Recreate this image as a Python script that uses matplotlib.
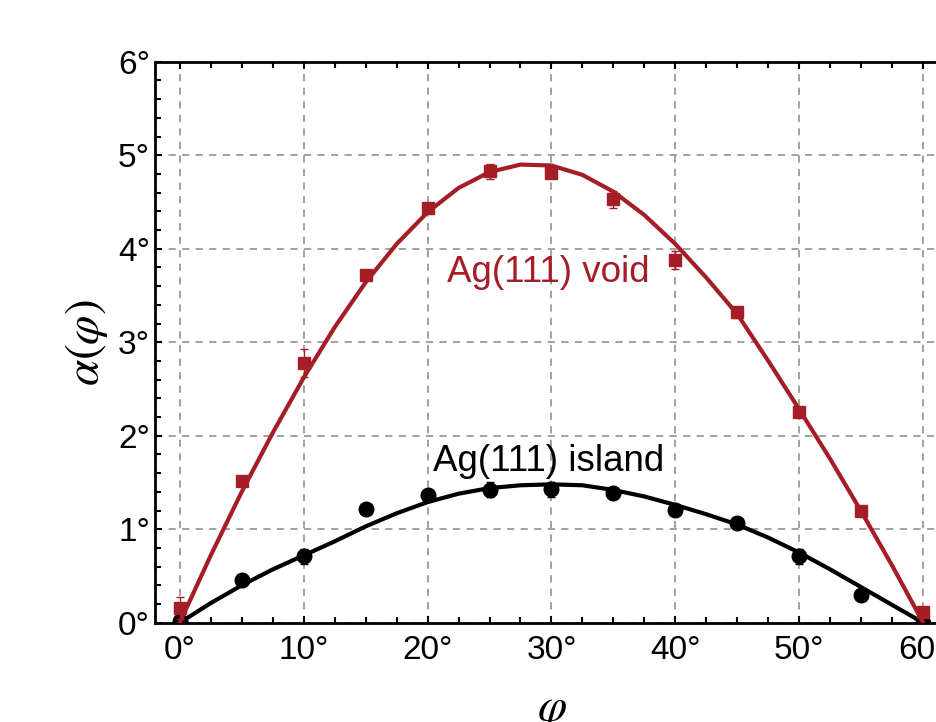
import numpy as np
import matplotlib.pyplot as plt
from matplotlib.ticker import MultipleLocator, FuncFormatter

plt.rcParams['font.family'] = ['Liberation Sans', 'DejaVu Sans']
plt.rcParams['mathtext.fontset'] = 'stix'

# measured points
phi = [0, 5, 10, 15, 20, 25, 30, 35, 40, 45, 50, 55, 60]
void = [0.16, 1.52, 2.78, 3.72, 4.44, 4.83, 4.81, 4.53, 3.88, 3.32, 2.25, 1.20, 0.12]
void_err = [0.12, 0.05, 0.15, 0.05, 0.05, 0.08, 0.03, 0.09, 0.10, 0.06, 0.04, 0.05, 0.05]
island = [0.02, 0.46, 0.71, 1.22, 1.37, 1.42, 1.43, 1.39, 1.21, 1.07, 0.71, 0.30, 0.0]
island_err = [0.03, 0.04, 0.08, 0.04, 0.04, 0.08, 0.08, 0.04, 0.04, 0.04, 0.08, 0.04, 0.03]

# fitted curves
fit_phi = [0, 2.5, 5, 7.5, 10, 12.5, 15, 17.5, 20, 22.5, 25, 27.5, 30,
           32.5, 35, 37.5, 40, 42.5, 45, 47.5, 50, 52.5, 55, 57.5, 60]
fit_void = [0, 0.72, 1.40, 2.03, 2.62, 3.16, 3.64, 4.05, 4.39, 4.65, 4.82, 4.90, 4.89,
            4.79, 4.61, 4.36, 4.05, 3.69, 3.30, 2.80, 2.28, 1.75, 1.19, 0.61, 0]
fit_island = [0, 0.21, 0.40, 0.57, 0.72, 0.87, 1.03, 1.17, 1.29, 1.38, 1.44, 1.47, 1.48,
              1.47, 1.42, 1.35, 1.26, 1.16, 1.05, 0.91, 0.75, 0.57, 0.38, 0.19, 0]

red = '#a51d26'

fig = plt.figure(figsize=(9.37, 7.22), dpi=100)
ax = fig.add_axes([0.1654, 0.1375, 0.8463, 0.777])

ax.plot(fit_phi, fit_island, color='black', lw=3.0, zorder=3, solid_joinstyle='round')
ax.errorbar(phi, island, yerr=island_err, fmt='o', color='black', ms=10.5,
            elinewidth=1.0, capsize=3, capthick=1.0, zorder=4)
ax.plot(fit_phi, fit_void, color=red, lw=3.0, zorder=5, solid_joinstyle='round')
ax.errorbar(phi, void, yerr=void_err, fmt='s', color=red, ms=9,
            elinewidth=1.0, capsize=3, capthick=1.0, zorder=6)

ax.text(21.6, 3.75, 'Ag(111) void', color=red, fontsize=26.5, va='center', ha='left')
ax.text(20.4, 1.72, 'Ag(111) island', color='black', fontsize=26.5, va='center', ha='left')

ax.set_xlim(-2, 62)
ax.set_ylim(0, 6)
ax.xaxis.set_major_locator(MultipleLocator(10))
ax.xaxis.set_minor_locator(MultipleLocator(2.5))
ax.yaxis.set_major_locator(MultipleLocator(1))
ax.yaxis.set_minor_locator(MultipleLocator(0.2))
deg = FuncFormatter(lambda v, p: '%d°' % round(v))
ax.xaxis.set_major_formatter(deg)
ax.yaxis.set_major_formatter(deg)

ax.grid(True, which='major', color='#9a9a9a', ls=(0, (4, 3.5)), lw=1.3)
ax.set_axisbelow(True)
ax.tick_params(which='both', direction='in', top=True, right=True, width=1.5,
               labelsize=24, colors='black')
ax.tick_params(axis='x', which='both', pad=9)
ax.tick_params(which='major', length=5)
ax.tick_params(which='minor', length=4)
for s in ax.spines.values():
    s.set_linewidth(2.0)

ax.set_ylabel(r'$\alpha(\varphi)$', fontsize=34, labelpad=6)
ax.set_xlabel(r'$\varphi$', fontsize=34, labelpad=16)

fig.savefig('out.png', dpi=100)
